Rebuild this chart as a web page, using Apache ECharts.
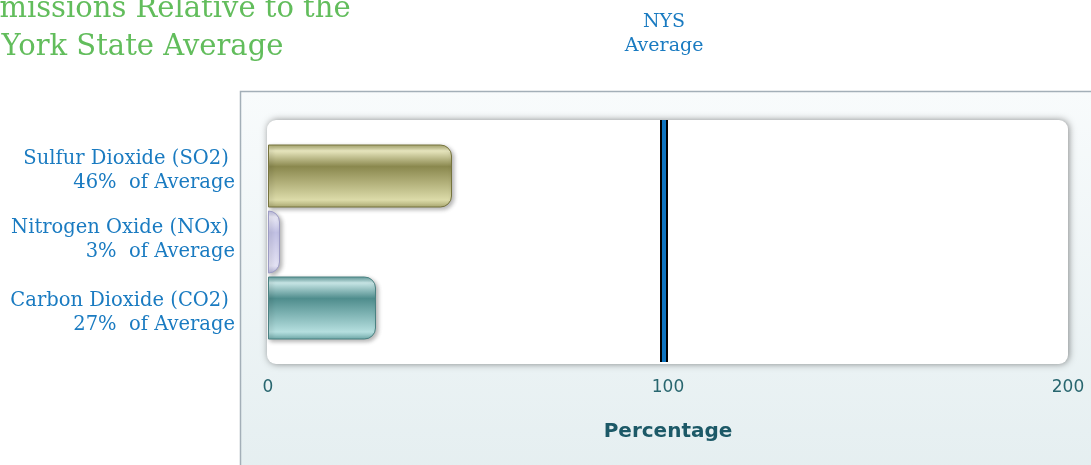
<!DOCTYPE html>
<html>
<head>
<meta charset="utf-8">
<script src="https://cdn.jsdelivr.net/npm/echarts@6/dist/echarts.min.js"></script>
<style>
  html, body { margin: 0; padding: 0; background: #fff; }
  #main { width: 1091px; height: 465px; }
</style>
</head>
<body>
<div id="main"></div>
<script>
// 数据
var categories = ['Sulfur Dioxide (SO2)', 'Nitrogen Oxide (NOx)', 'Carbon Dioxide (CO2)'];
var percentValues = [46, 3, 27];
var nysAverage = 100;
var xTicks = [0, 100, 200];

var serif = '"DejaVu Serif", serif';
var sans = '"DejaVu Sans", sans-serif';

// 每根柱子的渐变色
function barGradient(c) {
    return new echarts.graphic.LinearGradient(0, 0, 0, 1, [
        { offset: 0, color: c[0] },
        { offset: 0.1, color: c[1] },
        { offset: 0.35, color: c[2] },
        { offset: 0.88, color: c[3] },
        { offset: 1, color: c[4] }
    ]);
}
var barColors = [
    ['#a6a46a', '#e8e7bf', '#8a884e', '#dcdba9', '#a9a770'],
    ['#b8b8dc', '#ecebf8', '#c2c1e4', '#e4e3f4', '#b4b3d8'],
    ['#5f9c9c', '#c8e6e6', '#4f8d8d', '#b5dfdf', '#6ea8a8']
];
var barBorders = ['#76743e', '#9c9bc4', '#4a8282'];
// 标签上下微调（原图第三行标签偏下）
var labelPads = [[0, 0, 10, 0], [0, 0, 5, 0], [10, 0, 0, 0]];

var chart = echarts.init(document.getElementById('main'));

var option = {
    animation: false,
    title: {
        text: 'Air Emissions Relative to the\nNew York State Average',
        left: -80,
        top: -15,
        textStyle: {
            color: '#62bd5c',
            fontFamily: serif,
            fontWeight: 'normal',
            fontSize: 29,
            lineHeight: 38
        }
    },
    graphic: [
        {
            type: 'rect',
            z: -10,
            shape: { x: 240.5, y: 91.5, width: 900, height: 400 },
            style: {
                fill: new echarts.graphic.LinearGradient(0, 0, 0, 1, [
                    { offset: 0, color: '#f8fbfc' },
                    { offset: 1, color: '#e4eef0' }
                ]),
                stroke: '#a3afb8',
                lineWidth: 1.5
            }
        },
        {
            type: 'rect',
            z: -9,
            shape: { x: 267, y: 120, width: 801, height: 244, r: 9 },
            style: {
                fill: '#ffffff',
                shadowBlur: 7,
                shadowOffsetX: 1,
                shadowOffsetY: 0,
                shadowColor: 'rgba(0,0,0,0.45)'
            }
        }
    ],
    grid: [
        { left: 268, right: 23, top: 143, height: 198 },
        { left: 264, right: 27, top: 120, height: 242 }
    ],
    xAxis: [
        {
            gridIndex: 0, type: 'value', min: xTicks[0], max: xTicks[xTicks.length - 1], interval: 100,
            axisLine: { show: false }, axisTick: { show: false }, splitLine: { show: false },
            axisLabel: { margin: 38, color: '#28666f', fontFamily: sans, fontSize: 17 },
            name: 'Percentage',
            nameLocation: 'middle',
            nameGap: 81,
            nameTextStyle: { color: '#1c5967', fontFamily: sans, fontSize: 20, fontWeight: 'bold' }
        },
        {
            gridIndex: 1, type: 'value', min: 0, max: 200, show: false
        }
    ],
    yAxis: [
        {
            gridIndex: 0, type: 'category', inverse: true,
            data: categories.map(function (c, i) {
                return { value: c, textStyle: { padding: labelPads[i] } };
            }),
            axisLine: { show: false }, axisTick: { show: false },
            axisLabel: {
                margin: 33,
                align: 'right',
                formatter: function (v, i) {
                    return '{a|' + v + ' }\n{a|' + percentValues[i] + '%  of Average}';
                },
                rich: {
                    a: { color: '#1a7bc1', fontFamily: serif, fontSize: 19.5, lineHeight: 24, align: 'right' }
                }
            }
        },
        {
            gridIndex: 1, type: 'value', min: 0, max: 1, show: false
        }
    ],
    series: [
        {
            type: 'bar',
            xAxisIndex: 0,
            yAxisIndex: 0,
            barWidth: 63,
            data: percentValues.map(function (v, i) {
                return {
                    value: v,
                    itemStyle: {
                        color: barGradient(barColors[i]),
                        borderColor: barBorders[i],
                        borderWidth: 1,
                        borderRadius: [0, 11, 11, 0],
                        shadowBlur: 4,
                        shadowOffsetX: 2,
                        shadowOffsetY: 2,
                        shadowColor: 'rgba(0,0,0,0.3)'
                    }
                };
            })
        },
        {
            type: 'line',
            xAxisIndex: 1,
            yAxisIndex: 1,
            data: [],
            markLine: {
                silent: true,
                symbol: 'none',
                data: [
                    { xAxis: nysAverage, lineStyle: { color: '#000', width: 8, type: 'solid' }, label: { show: false } },
                    {
                        xAxis: nysAverage,
                        lineStyle: { color: '#0f74bf', width: 4, type: 'solid' },
                        label: {
                            show: true,
                            position: 'end',
                            distance: 62,
                            formatter: 'NYS\nAverage',
                            color: '#1a7bc1',
                            fontFamily: serif,
                            fontSize: 19,
                            lineHeight: 24
                        }
                    }
                ]
            }
        }
    ]
};

chart.setOption(option);
</script>
</body>
</html>
